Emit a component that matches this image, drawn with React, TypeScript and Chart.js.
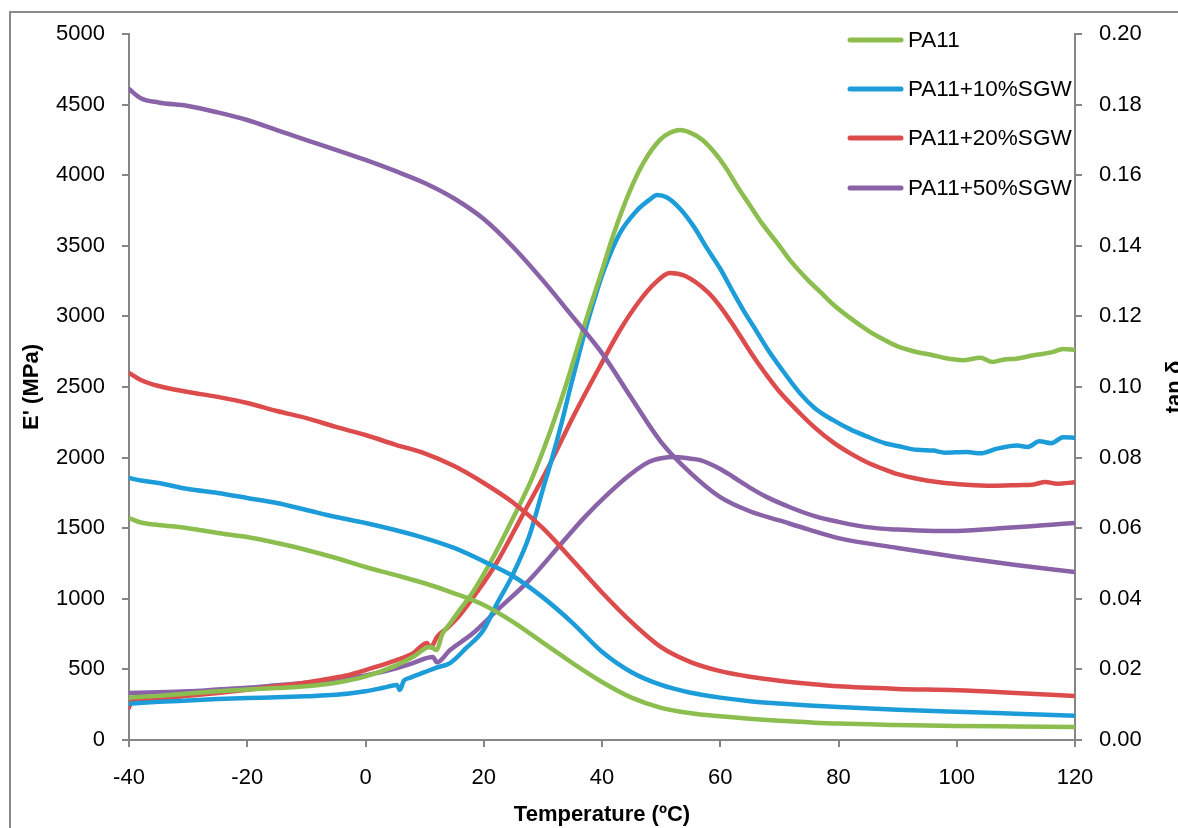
import React, { useEffect, useRef } from "react";
import { Chart, registerables } from "chart.js";

Chart.register(...registerables);

// ---- Data ----
const seriesNames = ["PA11", "PA11+10%SGW", "PA11+20%SGW", "PA11+50%SGW"];
const seriesColors = ["#8CBD4F", "#1C9DD9", "#DD4C4C", "#8962A8"];

// Storage modulus E' (MPa), left axis
const tempE = [-40, -38, -35, -30, -25, -20, -15, -10, -5, 0, 5, 10, 15, 20, 25, 30, 35, 40, 45, 50, 55, 60, 65, 70, 75, 80, 90, 100, 110, 120];
const ePA11 = [1572, 1540, 1523, 1500, 1466, 1438, 1395, 1346, 1289, 1225, 1169, 1110, 1039, 956, 835, 690, 545, 411, 300, 228, 190, 168, 150, 136, 125, 116, 107, 100, 96, 92];
const eSGW10 = [1855, 1838, 1820, 1777, 1749, 1714, 1678, 1629, 1579, 1537, 1487, 1430, 1360, 1265, 1160, 1010, 830, 625, 480, 390, 335, 300, 275, 258, 244, 233, 215, 200, 186, 172];
const eSGW20 = [2600, 2550, 2507, 2465, 2430, 2387, 2330, 2280, 2217, 2160, 2092, 2030, 1940, 1820, 1680, 1500, 1275, 1045, 835, 658, 552, 488, 448, 420, 398, 380, 362, 352, 333, 312];
const eSGW50 = [4610, 4545, 4515, 4490, 4445, 4391, 4320, 4249, 4180, 4108, 4030, 3945, 3835, 3690, 3490, 3255, 3000, 2740, 2420, 2110, 1890, 1720, 1620, 1555, 1490, 1430, 1360, 1296, 1240, 1190];

// tan delta, right axis
const tanT_PA11 = [-40, -35, -30, -25, -20, -15, -10, -5, 0, 5, 8, 11, 12, 13, 14.3, 16, 18, 20, 22, 25, 28, 30, 32, 34, 36, 38, 40, 42, 44.7, 47, 49.8, 51.5, 53.2, 55, 57, 59, 61, 63, 65, 67, 70, 72, 75, 77, 79, 82, 85, 87, 90, 93, 96, 98, 101, 104, 106, 108, 110, 113, 116, 118, 120];
const tanPA11 = [0.0120, 0.0125, 0.0132, 0.0138, 0.0143, 0.0147, 0.0152, 0.0162, 0.0180, 0.0210, 0.0235, 0.0264, 0.0255, 0.0300, 0.0330, 0.0370, 0.0415, 0.0470, 0.0530, 0.0630, 0.0735, 0.0818, 0.0910, 0.1010, 0.1120, 0.1227, 0.1330, 0.1435, 0.1555, 0.1635, 0.1700, 0.1720, 0.1728, 0.1720, 0.1700, 0.1665, 0.1620, 0.1565, 0.1515, 0.1465, 0.1400, 0.1355, 0.1300, 0.1268, 0.1235, 0.1195, 0.1160, 0.1140, 0.1115, 0.1100, 0.1090, 0.1082, 0.1076, 0.1083, 0.1071, 0.1078, 0.1080, 0.1090, 0.1098, 0.1108, 0.1105];

const tanT_SGW10 = [-40, -35, -30, -25, -20, -15, -10, -5, 0, 3, 5.3, 5.8, 6.5, 7.5, 10, 12, 14.3, 17, 19.9, 22.2, 24.8, 27.7, 30, 31.5, 33.2, 34.6, 36.6, 37.5, 40.2, 43, 45.9, 48, 49.3, 51, 53.2, 55.5, 57.8, 60, 62.2, 64, 65.5, 67.9, 70.1, 73.5, 76, 79.1, 82, 84.8, 88, 90, 93.3, 96, 98, 101.7, 104, 107, 110.2, 112, 114, 116, 118, 120];
const tanSGW10 = [0.0103, 0.0108, 0.0112, 0.0116, 0.0119, 0.0121, 0.0124, 0.0128, 0.0138, 0.0148, 0.0156, 0.0142, 0.0168, 0.0176, 0.0192, 0.0205, 0.0218, 0.0260, 0.0310, 0.0385, 0.0465, 0.0578, 0.0710, 0.0795, 0.0900, 0.0995, 0.1125, 0.1180, 0.1325, 0.1435, 0.1500, 0.1530, 0.1544, 0.1537, 0.1505, 0.1455, 0.1392, 0.1335, 0.1268, 0.1215, 0.1175, 0.1110, 0.1057, 0.0982, 0.0940, 0.0906, 0.0880, 0.0860, 0.0840, 0.0833, 0.0822, 0.0820, 0.0814, 0.0816, 0.0812, 0.0826, 0.0834, 0.0830, 0.0846, 0.0841, 0.0858, 0.0856];

const tanT_SGW20 = [-40, -39.5, -35, -30, -25, -20, -15, -10, -5, -2.6, 0, 5, 8, 10.4, 11, 12.1, 14, 16, 18.9, 22.1, 26.5, 31, 35.1, 39.7, 43, 46.4, 49, 51.5, 54, 57.8, 60, 62.2, 64.5, 66.7, 68, 70.1, 73.5, 76, 79.1, 82, 84.8, 88, 90, 93.3, 97, 101.7, 106, 110.2, 113, 115, 117, 120];
const tanSGW20 = [0.0092, 0.0112, 0.0118, 0.0125, 0.0133, 0.0142, 0.0152, 0.0163, 0.0177, 0.0185, 0.0198, 0.0225, 0.0245, 0.0275, 0.0262, 0.0292, 0.0320, 0.0355, 0.0420, 0.0500, 0.0635, 0.0775, 0.0915, 0.1060, 0.1160, 0.1245, 0.1295, 0.1323, 0.1315, 0.1270, 0.1228, 0.1175, 0.1115, 0.1060, 0.1030, 0.0985, 0.0925, 0.0885, 0.0843, 0.0812, 0.0787, 0.0765, 0.0753, 0.0740, 0.0730, 0.0723, 0.0720, 0.0722, 0.0724, 0.0731, 0.0726, 0.0730];

const tanT_SGW50 = [-40, -35, -30, -25, -20, -15, -10, -5, -2.6, 0, 5, 8, 11.4, 12.1, 14.3, 18, 22.1, 27.7, 33.2, 37, 41.2, 45, 48, 50, 52.2, 54.5, 56.6, 60, 62.2, 65, 67.9, 72, 76.4, 80, 84.8, 90, 96, 101, 107.3, 112, 116, 120];
const tanSGW50 = [0.0133, 0.0135, 0.0138, 0.0143, 0.0148, 0.0155, 0.0162, 0.0170, 0.0176, 0.0183, 0.0202, 0.0218, 0.0235, 0.0220, 0.0255, 0.0300, 0.0365, 0.0453, 0.0558, 0.0630, 0.0700, 0.0755, 0.0788, 0.0798, 0.0802, 0.0798, 0.0793, 0.0768, 0.0745, 0.0715, 0.0688, 0.0658, 0.0632, 0.0618, 0.0603, 0.0596, 0.0592, 0.0593, 0.0600, 0.0605, 0.0610, 0.0615];

const xTicksMin = -40, xTicksMax = 120, xStep = 20;
const eMin = 0, eMax = 5000, eStep = 500;
const tanMin = 0, tanMax = 0.2, tanStep = 0.02;

const FONT = "'Liberation Sans', Arial, sans-serif";
const AXIS_GRAY = "#868686";

const pts = (xs: number[], ys: number[]) => xs.map((x, i) => ({ x, y: ys[i] }));

export default function App() {
  const ref = useRef<HTMLCanvasElement | null>(null);

  useEffect(() => {
    if (!ref.current) return;
    const eSeries = [ePA11, eSGW10, eSGW20, eSGW50];
    const tanSeries: [number[], number[]][] = [
      [tanT_PA11, tanPA11],
      [tanT_SGW10, tanSGW10],
      [tanT_SGW20, tanSGW20],
      [tanT_SGW50, tanSGW50],
    ];
    const common = {
      borderWidth: 4.5,
      pointRadius: 0,
      fill: false,
      cubicInterpolationMode: "monotone" as const,
      borderCapStyle: "round" as const,
      borderJoinStyle: "round" as const,
    };
    const datasets: any[] = [];
    eSeries.forEach((vals, i) => {
      datasets.push({
        ...common,
        label: seriesNames[i] + " E'",
        data: pts(tempE, vals),
        borderColor: seriesColors[i],
        yAxisID: "y",
      });
    });
    tanSeries.forEach(([xs, ys], i) => {
      datasets.push({
        ...common,
        label: seriesNames[i],
        data: pts(xs, ys),
        borderColor: seriesColors[i],
        yAxisID: "y2",
      });
    });

    const overlay = {
      id: "overlay",
      afterDraw(chart: any) {
        const ctx = chart.ctx;
        ctx.save();
        // legend
        const legendY = [40, 89, 138, 188];
        ctx.font = `22.5px ${FONT}`;
        ctx.textBaseline = "middle";
        ctx.textAlign = "left";
        seriesNames.forEach((name, i) => {
          ctx.strokeStyle = seriesColors[i];
          ctx.lineWidth = 5;
          ctx.lineCap = "round";
          ctx.beginPath();
          ctx.moveTo(850, legendY[i]);
          ctx.lineTo(901, legendY[i]);
          ctx.stroke();
          ctx.fillStyle = "#000";
          ctx.fillText(name, 908, legendY[i] + 1);
        });
        // axis titles
        const area = chart.chartArea;
        const cy = (area.top + area.bottom) / 2;
        ctx.font = `bold 22px ${FONT}`;
        ctx.fillStyle = "#000";
        ctx.textAlign = "center";
        ctx.textBaseline = "middle";
        ctx.fillText("Temperature (\u00BAC)", (area.left + area.right) / 2, 815);
        ctx.save();
        ctx.translate(32, cy);
        ctx.rotate(-Math.PI / 2);
        ctx.fillText("E' (MPa)", 0, 0);
        ctx.restore();
        ctx.save();
        ctx.translate(1181, cy);
        ctx.rotate(-Math.PI / 2);
        ctx.textBaseline = "alphabetic";
        ctx.fillText("tan \u03B4", 0, 0);
        ctx.restore();
        ctx.restore();
      },
    };

    const tickFont = { family: FONT, size: 22 };
    const gridOpts = {
      display: true,
      drawOnChartArea: false,
      drawTicks: true,
      tickLength: 7,
      color: AXIS_GRAY,
      lineWidth: 2,
    };
    const borderOpts = { display: true, color: AXIS_GRAY, width: 2 };

    const chart = new Chart(ref.current, {
      type: "line",
      data: { datasets },
      plugins: [overlay],
      options: {
        responsive: false,
        animation: false,
        devicePixelRatio: 1,
        layout: { padding: { top: 34, left: 0, right: 0, bottom: 0 } },
        plugins: {
          legend: { display: false },
          tooltip: { enabled: false },
          title: { display: false },
        },
        scales: {
          x: {
            type: "linear",
            min: xTicksMin,
            max: xTicksMax,
            ticks: {
              stepSize: xStep,
              font: tickFont,
              color: "#000",
              padding: 18,
              maxRotation: 0,
              callback: (v: any) => String(v),
            },
            grid: gridOpts,
            border: borderOpts,
            afterFit: (s: any) => {
              s.height = 88;
            },
          },
          y: {
            type: "linear",
            position: "left",
            min: eMin,
            max: eMax,
            ticks: {
              stepSize: eStep,
              font: tickFont,
              color: "#000",
              padding: 17,
              callback: (v: any) => String(v),
            },
            grid: gridOpts,
            border: borderOpts,
            afterFit: (s: any) => {
              s.width = 129;
            },
          },
          y2: {
            type: "linear",
            position: "right",
            min: tanMin,
            max: tanMax,
            ticks: {
              stepSize: tanStep,
              font: tickFont,
              color: "#000",
              padding: 17,
              callback: (v: any) => Number(v).toFixed(2),
            },
            grid: gridOpts,
            border: borderOpts,
            afterFit: (s: any) => {
              s.width = 103;
            },
          },
        },
      },
    });
    return () => chart.destroy();
  }, []);

  return (
    <div style={{ position: "absolute", left: 0, top: 0, width: 1178, height: 828, overflow: "hidden", background: "#fff" }}>
      <div
        style={{
          position: "absolute",
          left: 9,
          top: 11,
          width: 1300,
          height: 1000,
          border: "2px solid #8a8a8a",
          boxSizing: "border-box",
        }}
      />
      <canvas ref={ref} width={1178} height={828} style={{ position: "absolute", left: 0, top: 0, width: 1178, height: 828 }} />
    </div>
  );
}
